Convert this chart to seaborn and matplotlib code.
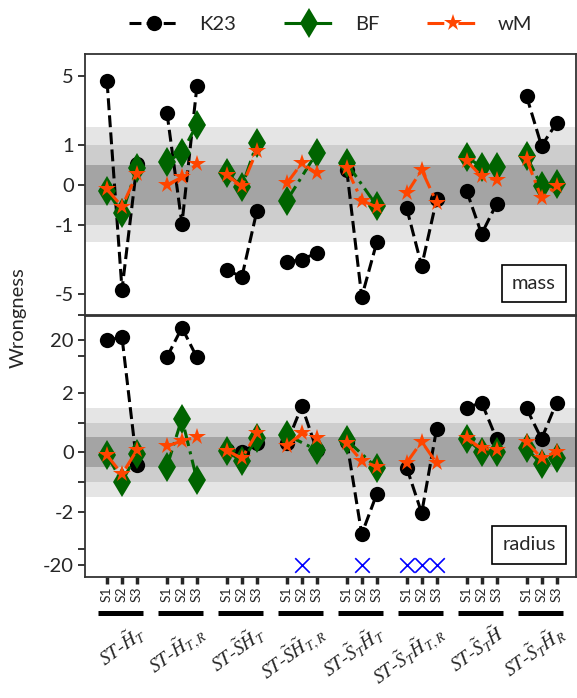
import numpy as np
import pandas as pd
import matplotlib
matplotlib.use('Agg')
import matplotlib.pyplot as plt
import seaborn as sns
from matplotlib.lines import Line2D
from matplotlib.transforms import blended_transform_factory

# ---------------- data ----------------
groups = [r'$ST$-$\tilde{H}_T$', r'$ST$-$\tilde{H}_{T,R}$', r'$ST$-$\tilde{S}\tilde{H}_T$',
          r'$ST$-$\tilde{S}\tilde{H}_{T,R}$', r'$ST$-$\tilde{S}_T\tilde{H}_T$',
          r'$ST$-$\tilde{S}_T\tilde{H}_{T,R}$', r'$ST$-$\tilde{S}_T\tilde{H}$',
          r'$ST$-$\tilde{S}_T\tilde{H}_R$']
samples = ['S1', 'S2', 'S3']
methods = ['K23', 'BF', 'wM']
nan = np.nan

mass_K23 = [4.4, -4.5, 0.52, 2.1, -0.97, 3.9, -2.85, -3.35, -0.65, -2.35, -2.25, -1.9,
            0.37, -5.35, -1.5, -0.58, -2.6, -0.36, -0.15, -1.23, -0.47, 3.1, 0.97, 1.65]
mass_BF = [-0.15, -0.70, 0.41, 0.58, 0.80, 1.6, 0.29, -0.05, 1.03, -0.39, nan, 0.80,
           0.54, nan, -0.52, nan, nan, nan, 0.70, 0.44, 0.44, 0.72, -0.04, 0.02]
mass_wM = [-0.11, -0.54, 0.27, 0.0, 0.19, 0.52, 0.25, -0.04, 0.85, 0.04, 0.54, 0.29,
           0.41, -0.39, -0.55, -0.21, 0.37, -0.44, 0.60, 0.21, 0.12, 0.64, -0.33, -0.02]

radius_K23 = [19.7, 22.2, -0.43, 9.5, 33.7, 9.3, 0.08, 0.0, 0.30, 0.30, 1.56, 0.08,
              0.36, -5.3, -1.41, -0.52, -2.13, 0.8, 1.50, 1.68, 0.45, 1.48, 0.45, 1.68]
radius_BF = [-0.09, -0.99, -0.05, -0.48, 1.14, -0.93, 0.05, -0.31, 0.47, 0.58, nan, 0.08,
             0.41, nan, -0.52, nan, nan, nan, 0.45, 0.02, 0.02, 0.13, -0.40, -0.18]
radius_wM = [-0.10, -0.74, 0.08, 0.21, 0.38, 0.52, 0.06, -0.20, 0.64, 0.22, 0.64, 0.49,
             0.30, -0.29, -0.48, -0.35, 0.36, -0.37, 0.47, 0.13, 0.08, 0.36, -0.20, 0.02]

FAIL_LEVEL = -20  # where failed BF fits are flagged in the radius panel

# ---------------- style ----------------
sns.set_style('ticks')
plt.rcParams['font.family'] = ['Lato', 'DejaVu Sans']
plt.rcParams['mathtext.fontset'] = 'stix'
plt.rcParams['axes.unicode_minus'] = False

rows = []
for qty, series in (('mass', {'K23': mass_K23, 'BF': mass_BF, 'wM': mass_wM}),
                    ('radius', {'K23': radius_K23, 'BF': radius_BF, 'wM': radius_wM})):
    for m, vals in series.items():
        for i, v in enumerate(vals):
            g, s = divmod(i, 3)
            rows.append(dict(qty=qty, method=m, group=g, sample=samples[s],
                             pos=g * 4 + s, value=v))
df = pd.DataFrame(rows)

W, H = 577, 698
fig = plt.figure(figsize=(W / 100, H / 100), dpi=100)


def rect(l, t, r, b):
    return [l / W, 1 - b / H, (r - l) / W, (b - t) / H]


ax_m = fig.add_axes(rect(85, 54, 576, 315.5))
ax_r = fig.add_axes(rect(85, 315.5, 576, 577))

palette = {'K23': 'black', 'BF': 'darkgreen', 'wM': 'orangered'}
markers = {'K23': 'o', 'BF': 'd', 'wM': '*'}
dashes = {'K23': (3.9, 1.7), 'BF': (5.5, 1.8, 1, 1.8), 'wM': (5.5, 1.8, 1, 1.8)}
msizes = {'o': 11, 'd': 15, '*': 13}
FS = 14.5

for ax, qty in ((ax_m, 'mass'), (ax_r, 'radius')):
    for lim, a in ((1.5, 0.1), (1.0, 0.1), (0.5, 0.2)):
        ax.axhspan(-lim, lim, color='k', alpha=a, lw=0, zorder=0)
    sub = df[df.qty == qty].dropna()
    sns.lineplot(data=sub, x='pos', y='value', hue='method', style='method',
                 units='group', estimator=None, hue_order=methods, style_order=methods,
                 palette=palette, markers=markers, dashes=dashes, lw=2.2, mew=0,
                 legend=False, ax=ax, zorder=3)
    for ln in ax.get_lines():
        mk = ln.get_marker()
        if mk in msizes:
            ln.set_markersize(msizes[mk])
    ax.set_xlabel('')
    ax.set_ylabel('')
    ax.set_xlim(-1.47, 31.3)
    for sp in ax.spines.values():
        sp.set_linewidth(1.3)
        sp.set_color('#333333')
    ax.tick_params(axis='y', length=5, width=1.3, labelsize=FS, direction='out', pad=3)
    ax.text(0.959, 0.09, qty, transform=ax.transAxes, ha='right', va='bottom', fontsize=FS,
            bbox=dict(boxstyle='square,pad=0.5', fc='white', ec='black', lw=1.2), zorder=6)

fail = df[(df.qty == 'radius') & (df.method == 'BF') & df.value.isna()].assign(value=FAIL_LEVEL)
sns.scatterplot(data=fail, x='pos', y='value', marker='x', color='blue', s=110,
                linewidth=1.2, ax=ax_r, zorder=5, legend=False)
ax_r.set_xlabel('')
ax_r.set_ylabel('')

# y scales
ax_m.set_yscale('symlog', linthresh=1, linscale=0.367)
ax_m.set_ylim(-8.25, 8.3)
ax_m.set_yticks([-8.25, -5, -1, 0, 1, 5])
ax_m.set_yticklabels(['', '-5', '-1', '0', '1', '5'])
ax_m.yaxis.set_minor_locator(matplotlib.ticker.NullLocator())

ax_r.set_yscale('symlog', linthresh=2, linscale=1.0)
ax_r.set_ylim(-33.8, 57)
ax_r.set_yticks([-20, -10, -2, -1, 0, 1, 2, 10, 20])
ax_r.set_yticklabels(['-20', '', '-2', '', '0', '', '2', '', '20'])
ax_r.yaxis.set_minor_locator(matplotlib.ticker.NullLocator())

# x axis
ax_m.tick_params(axis='x', bottom=False, labelbottom=False)
xpos = sorted(df.pos.unique())
ax_r.set_xticks(xpos)
ax_r.set_xticklabels([samples[p % 4] for p in xpos], rotation=90, fontsize=10)
ax_r.tick_params(axis='x', length=5, width=2.5, pad=2)

trans = blended_transform_factory(ax_r.transData, ax_r.transAxes)
for g, lab in enumerate(groups):
    ax_r.plot([g * 4 - 0.6, g * 4 + 2.4], [-0.138, -0.138], transform=trans, color='k',
              lw=3.6, clip_on=False, solid_capstyle='butt')
    ax_r.text(g * 4 + 1.9, -0.168, lab, transform=trans, rotation=36, ha='right', va='top',
              rotation_mode='anchor', fontsize=14, family=['Liberation Serif'])

fig.text(18 / W, 1 - 318 / H, 'Wrongness', rotation=90, va='center', ha='center', fontsize=FS)

handles = [Line2D([], [], color=palette[m], marker=markers[m], dashes=dashes[m], lw=2.2,
                  ms=msizes[markers[m]], mew=0) for m in methods]
fig.legend(handles, methods, loc='upper center', bbox_to_anchor=(330.5 / W, 1 + 2 / H),
           ncol=3, frameon=False, fontsize=FS, handlelength=2.5, handletextpad=1.0,
           columnspacing=2.4)

fig.savefig('out.png', dpi=100)
